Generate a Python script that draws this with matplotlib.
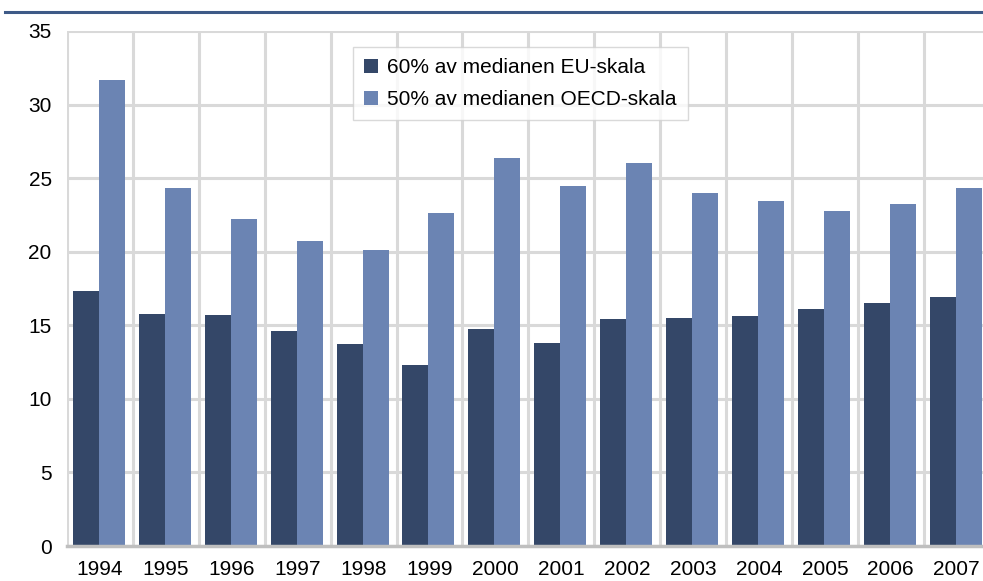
import numpy as np
import matplotlib
matplotlib.use('Agg')
import matplotlib.pyplot as plt
from matplotlib.lines import Line2D

plt.rcParams['font.family'] = ['Liberation Sans', 'DejaVu Sans']

years = ['1994', '1995', '1996', '1997', '1998', '1999', '2000',
         '2001', '2002', '2003', '2004', '2005', '2006', '2007']
eu60 = [17.3, 15.8, 15.7, 14.6, 13.7, 12.3, 14.75,
        13.8, 15.4, 15.5, 15.6, 16.1, 16.5, 16.9]
oecd50 = [31.7, 24.3, 22.2, 20.7, 20.1, 22.6, 26.4,
          24.5, 26.0, 24.0, 23.45, 22.8, 23.25, 24.3]
labels = ['60% av medianen EU-skala', '50% av medianen OECD-skala']

DARK = '#344768'
LIGHT = '#6b84b3'
GRID = '#d9d9d9'

fig = plt.figure(figsize=(9.83, 5.81), dpi=100)
ax = fig.add_axes([67 / 983, 1 - 546 / 581, 1 - 67 / 983, (546 - 31) / 581])

x = np.arange(len(years))
w = 0.395
ax.bar(x - w / 2 - 0.015, eu60, w, color=DARK, label=labels[0], zorder=3)
ax.bar(x + w / 2 - 0.015, oecd50, w, color=LIGHT, label=labels[1], zorder=3)

# plot area is cut at the right edge of the picture, as in the source
ax.set_xlim(-0.5, -0.5 + 916 / 65.9)
ax.set_ylim(0, 35)
ax.set_yticks(range(0, 36, 5))
ax.set_xticks(x)
ax.set_xticklabels(years)

# grid
for k in range(len(years) + 1):
    ax.axvline(k - 0.5, color=GRID, lw=2.2, zorder=1)
for v in range(5, 36, 5):
    ax.axhline(v, color=GRID, lw=2.2, zorder=1)

for s in ['top', 'right', 'left']:
    ax.spines[s].set_visible(False)
ax.spines['bottom'].set_color('#bfbfbf')
ax.spines['bottom'].set_linewidth(2.5)
ax.spines['bottom'].set_zorder(4)
ax.tick_params(axis='both', length=0, labelsize=15, colors='black')
ax.tick_params(axis='x', pad=10)
ax.tick_params(axis='y', pad=11)

leg = ax.legend(loc='upper left', bbox_to_anchor=((353 - 67) / 916, (546 - 47) / 515),
                fontsize=15, frameon=True, fancybox=False, handlelength=0.65,
                handleheight=0.65, handletextpad=0.45, labelspacing=0.6,
                borderpad=0.55, borderaxespad=0)
leg.get_frame().set_edgecolor('#d0d0d0')
leg.get_frame().set_linewidth(1.0)
leg.set_zorder(5)

# blue header rule
fig.add_artist(Line2D([5 / 983, 1], [1 - 12 / 581] * 2, color='#3e5a87', lw=2.2))

fig.savefig('out.png', dpi=100)
